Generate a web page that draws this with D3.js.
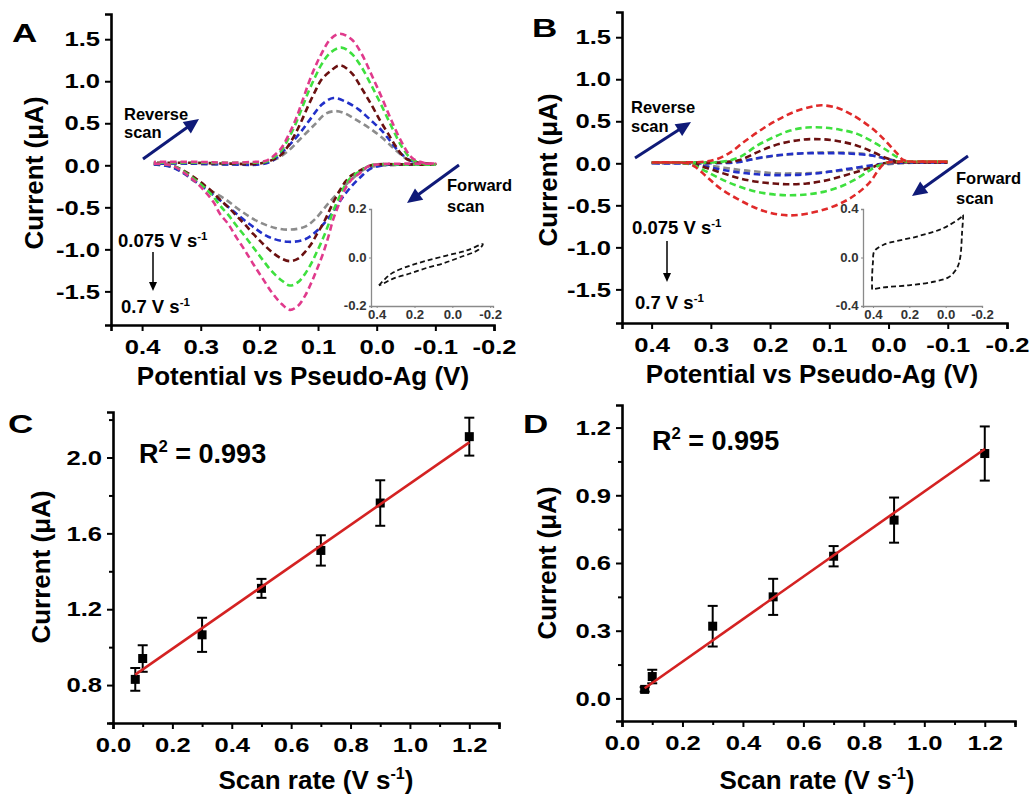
<!DOCTYPE html>
<html><head><meta charset="utf-8">
<script src="https://cdn.jsdelivr.net/npm/d3@7"></script>
<style>
body{margin:0;background:#fff;}
svg text{font-family:"Liberation Sans",Arial,Helvetica,sans-serif;font-weight:bold;}
</style></head><body>
<script>
// ---------------- DATA ----------------
// Panel A: CV curves (potential V, current uA); fwd = cathodic sweep (0.38 -> -0.1), rev = anodic sweep (-0.1 -> 0.38)
const ratesLabelTop = "0.075 V s";
const ratesLabelBottom = "0.7 V s";
const cvTicksX = [0.4, 0.3, 0.2, 0.1, 0.0, -0.1, -0.2];
const cvTicksY = [-1.5, -1.0, -0.5, 0.0, 0.5, 1.0, 1.5];

const aGrayFwd = [[0.38,0.01],[0.35,-0.02],[0.33,-0.09],[0.315,-0.17],[0.287,-0.285],[0.259,-0.40],[0.23,-0.55],[0.202,-0.67],[0.173,-0.745],[0.148,-0.765],[0.122,-0.73],[0.105,-0.64],[0.082,-0.45],[0.06,-0.285],[0.043,-0.17],[0.026,-0.07],[0.01,-0.02],[-0.02,0.0],[-0.06,0.01],[-0.1,0.01]];
const aGrayRev = [[-0.1,0.01],[-0.075,0.02],[-0.06,0.04],[-0.048,0.09],[-0.031,0.19],[-0.009,0.33],[0.014,0.45],[0.037,0.55],[0.055,0.62],[0.07,0.645],[0.088,0.61],[0.105,0.49],[0.128,0.33],[0.151,0.17],[0.17,0.08],[0.19,0.03],[0.22,0.01],[0.27,0.01],[0.32,0.02],[0.38,0.02]];
const aBlueFwd = [[0.38,0.01],[0.35,-0.02],[0.33,-0.09],[0.298,-0.25],[0.27,-0.40],[0.242,-0.56],[0.213,-0.72],[0.185,-0.85],[0.151,-0.91],[0.122,-0.88],[0.099,-0.76],[0.077,-0.58],[0.06,-0.40],[0.043,-0.25],[0.026,-0.13],[0.01,-0.04],[-0.01,0.0],[-0.05,0.01],[-0.1,0.01]];
const aBlueRev = [[-0.1,0.01],[-0.075,0.02],[-0.054,0.07],[-0.037,0.17],[-0.023,0.29],[-0.009,0.41],[0.009,0.53],[0.031,0.665],[0.054,0.76],[0.074,0.80],[0.094,0.72],[0.111,0.57],[0.128,0.41],[0.145,0.27],[0.162,0.15],[0.179,0.05],[0.20,0.01],[0.25,0.01],[0.32,0.02],[0.38,0.02]];
const aMaroonFwd = [[0.38,0.02],[0.35,0.0],[0.33,-0.06],[0.31,-0.15],[0.293,-0.24],[0.278,-0.33],[0.267,-0.41],[0.253,-0.50],[0.239,-0.60],[0.224,-0.71],[0.21,-0.82],[0.196,-0.92],[0.179,-1.03],[0.162,-1.11],[0.148,-1.14],[0.134,-1.11],[0.122,-1.03],[0.111,-0.93],[0.102,-0.82],[0.091,-0.69],[0.082,-0.56],[0.074,-0.44],[0.063,-0.30],[0.054,-0.20],[0.043,-0.12],[0.028,-0.06],[0.014,-0.01],[0.0,0.01],[-0.05,0.01],[-0.1,0.01]];
const aMaroonRev = [[-0.1,0.02],[-0.065,0.04],[-0.048,0.09],[-0.034,0.21],[-0.02,0.37],[-0.006,0.53],[0.009,0.72],[0.026,0.92],[0.043,1.10],[0.063,1.19],[0.079,1.12],[0.094,1.02],[0.105,0.88],[0.116,0.72],[0.128,0.53],[0.139,0.37],[0.151,0.23],[0.162,0.13],[0.176,0.07],[0.20,0.02],[0.25,0.02],[0.32,0.03],[0.38,0.03]];
const aGreenFwd = [[0.38,0.02],[0.35,0.0],[0.33,-0.07],[0.31,-0.17],[0.293,-0.27],[0.278,-0.38],[0.267,-0.48],[0.253,-0.59],[0.239,-0.72],[0.224,-0.85],[0.21,-0.98],[0.196,-1.11],[0.179,-1.26],[0.162,-1.37],[0.148,-1.43],[0.134,-1.39],[0.122,-1.29],[0.111,-1.16],[0.102,-1.03],[0.091,-0.86],[0.082,-0.70],[0.074,-0.54],[0.063,-0.37],[0.054,-0.24],[0.043,-0.14],[0.028,-0.07],[0.014,-0.01],[0.0,0.01],[-0.05,0.01],[-0.1,0.01]];
const aGreenRev = [[-0.1,0.02],[-0.08,0.02],[-0.06,0.07],[-0.043,0.22],[-0.026,0.45],[-0.009,0.70],[0.009,0.95],[0.026,1.17],[0.043,1.33],[0.06,1.40],[0.079,1.34],[0.094,1.20],[0.105,1.05],[0.116,0.88],[0.128,0.67],[0.139,0.48],[0.151,0.31],[0.162,0.18],[0.176,0.09],[0.19,0.04],[0.22,0.03],[0.30,0.03],[0.38,0.03]];
const aPinkFwd = [[0.38,0.02],[0.35,0.0],[0.33,-0.08],[0.31,-0.19],[0.293,-0.31],[0.278,-0.44],[0.267,-0.58],[0.253,-0.70],[0.239,-0.86],[0.224,-1.02],[0.21,-1.18],[0.196,-1.33],[0.179,-1.51],[0.162,-1.65],[0.148,-1.72],[0.134,-1.67],[0.122,-1.55],[0.111,-1.39],[0.102,-1.24],[0.091,-1.04],[0.082,-0.84],[0.074,-0.64],[0.063,-0.44],[0.054,-0.285],[0.043,-0.17],[0.028,-0.09],[0.014,-0.01],[0.0,0.01],[-0.05,0.02],[-0.1,0.02]];
const aPinkRev = [[-0.1,0.03],[-0.08,0.03],[-0.06,0.09],[-0.043,0.27],[-0.026,0.52],[-0.009,0.80],[0.009,1.08],[0.026,1.33],[0.043,1.50],[0.063,1.565],[0.079,1.50],[0.094,1.33],[0.105,1.17],[0.116,0.98],[0.128,0.74],[0.139,0.53],[0.151,0.35],[0.162,0.21],[0.176,0.11],[0.19,0.05],[0.21,0.04],[0.25,0.03],[0.30,0.04],[0.38,0.04]];

// Panel B: CV curves
const bGrayFwd = [[0.40,0.0],[0.34,0.0],[0.30,-0.03],[0.25,-0.08],[0.22,-0.10],[0.19,-0.12],[0.16,-0.12],[0.13,-0.115],[0.10,-0.10],[0.07,-0.08],[0.04,-0.05],[0.02,-0.03],[0.0,-0.01],[-0.02,0.0],[-0.06,0.01],[-0.1,0.01]];
const bGrayRev = [[-0.1,0.01],[-0.05,0.01],[-0.02,0.02],[0.0,0.05],[0.02,0.08],[0.04,0.11],[0.07,0.125],[0.10,0.13],[0.13,0.125],[0.16,0.11],[0.19,0.09],[0.22,0.06],[0.25,0.03],[0.30,0.01],[0.40,0.0]];
const bBlueFwd = [[0.40,0.0],[0.34,0.0],[0.307,-0.04],[0.279,-0.08],[0.251,-0.11],[0.222,-0.13],[0.194,-0.14],[0.166,-0.14],[0.138,-0.13],[0.11,-0.11],[0.082,-0.08],[0.053,-0.05],[0.025,-0.02],[0.0,0.0],[-0.05,0.01],[-0.1,0.01]];
const bBlueRev = [[-0.1,0.01],[-0.05,0.01],[-0.014,0.02],[0.003,0.05],[0.025,0.09],[0.053,0.11],[0.082,0.12],[0.11,0.12],[0.138,0.12],[0.166,0.11],[0.194,0.09],[0.222,0.06],[0.251,0.016],[0.30,0.0],[0.40,0.0]];
const bMaroonFwd = [[0.40,0.01],[0.34,0.0],[0.31,-0.05],[0.279,-0.12],[0.251,-0.18],[0.222,-0.22],[0.194,-0.24],[0.166,-0.25],[0.138,-0.24],[0.11,-0.21],[0.082,-0.16],[0.053,-0.10],[0.025,-0.04],[0.008,0.0],[-0.05,0.01],[-0.1,0.01]];
const bMaroonRev = [[-0.1,0.01],[-0.05,0.01],[-0.014,0.02],[0.003,0.06],[0.025,0.13],[0.053,0.21],[0.082,0.26],[0.11,0.285],[0.138,0.285],[0.166,0.26],[0.194,0.21],[0.222,0.13],[0.251,0.04],[0.28,0.01],[0.34,0.01],[0.40,0.01]];
const bGreenFwd = [[0.40,0.01],[0.36,0.01],[0.33,-0.02],[0.307,-0.10],[0.279,-0.20],[0.251,-0.28],[0.222,-0.34],[0.194,-0.37],[0.166,-0.38],[0.138,-0.37],[0.11,-0.34],[0.082,-0.28],[0.053,-0.18],[0.031,-0.08],[0.014,-0.02],[0.0,0.01],[-0.05,0.02],[-0.1,0.02]];
const bGreenRev = [[-0.1,0.02],[-0.05,0.02],[-0.03,0.02],[-0.014,0.075],[0.003,0.155],[0.025,0.25],[0.053,0.35],[0.082,0.40],[0.11,0.425],[0.138,0.425],[0.166,0.39],[0.194,0.31],[0.222,0.21],[0.251,0.075],[0.28,0.02],[0.33,0.01],[0.40,0.01]];
const bRedFwd = [[0.40,0.01],[0.36,0.01],[0.34,0.0],[0.327,-0.04],[0.307,-0.16],[0.284,-0.30],[0.256,-0.42],[0.228,-0.52],[0.20,-0.59],[0.166,-0.62],[0.138,-0.60],[0.104,-0.54],[0.076,-0.46],[0.053,-0.36],[0.031,-0.22],[0.017,-0.08],[0.006,0.0],[-0.02,0.02],[-0.06,0.02],[-0.1,0.02]];
const bRedRev = [[-0.1,0.02],[-0.06,0.02],[-0.04,0.02],[-0.025,0.04],[-0.014,0.12],[0.003,0.25],[0.02,0.37],[0.042,0.49],[0.065,0.59],[0.087,0.66],[0.113,0.69],[0.132,0.67],[0.16,0.61],[0.189,0.51],[0.217,0.39],[0.245,0.25],[0.267,0.13],[0.29,0.05],[0.31,0.02],[0.35,0.01],[0.40,0.01]];

// Insets (background CVs)
const insetATicksX = [0.4, 0.2, 0.0, -0.2];
const insetATicksY = [-0.2, 0.0, 0.2];
const insetALoop = [[0.388,-0.115],[0.358,-0.090],[0.313,-0.062],[0.225,-0.034],[0.136,-0.013],[0.030,0.008],[-0.076,0.029],[-0.161,0.055],[-0.138,0.032],[-0.041,0.001],[0.048,-0.024],[0.136,-0.043],[0.225,-0.066],[0.313,-0.087],[0.367,-0.108],[0.388,-0.115]];
const insetBTicksX = [0.4, 0.2, 0.0, -0.2];
const insetBTicksY = [-0.4, 0.0, 0.4];
const insetBLoop = [[0.405,-0.263],[0.405,-0.158],[0.40,-0.034],[0.393,0.05],[0.342,0.105],[0.158,0.173],[0.011,0.243],[-0.09,0.339],[-0.095,0.353],[-0.09,0.2],[-0.08,0.0],[-0.062,-0.088],[-0.016,-0.163],[0.066,-0.2],[0.195,-0.228],[0.342,-0.247],[0.405,-0.263]];

// Panels C & D
const scanRates = [0.075, 0.1, 0.3, 0.5, 0.7, 0.9, 1.2];
const currentC = [0.83, 0.94, 1.065, 1.31, 1.51, 1.76, 2.11];
const errorC = [0.06, 0.07, 0.09, 0.05, 0.08, 0.12, 0.10];
const fitC = [[0.075, 0.855], [1.2, 2.08]];
const currentD = [0.04, 0.097, 0.32, 0.45, 0.63, 0.79, 1.085];
const errorD = [0.01, 0.03, 0.09, 0.08, 0.045, 0.10, 0.12];
const fitD = [[0.075, 0.045], [1.2, 1.105]];
const rateTicks = [0.0, 0.2, 0.4, 0.6, 0.8, 1.0, 1.2];
const rateMinor = [0.1, 0.3, 0.5, 0.7, 0.9, 1.1, 1.3];
const cTicksY = [0.8, 1.2, 1.6, 2.0];
const cMinorY = [0.6, 1.0, 1.4, 1.8, 2.2];
const dTicksY = [0.0, 0.3, 0.6, 0.9, 1.2];
const dMinorY = [0.15, 0.45, 0.75, 1.05];

// ---------------- DRAWING ----------------
const FONT = '"Liberation Sans", Arial, Helvetica, sans-serif';
const NAVY = "#0f1a78";
const svg = d3.select("body").append("svg").attr("width", 1033).attr("height", 796)
  .style("background", "#fff");

const fmt1 = d => (Math.abs(d) < 1e-9 ? 0 : d).toFixed(1);
const TSX = 1.22; // horizontal stretch of tick labels

function styleAxis(g, fs, sx, domW, tickW, color) {
  color = color || "#000";
  g.attr("font-size", fs).attr("font-family", FONT).attr("font-weight", "bold");
  g.select(".domain").attr("stroke", color).attr("stroke-width", domW);
  g.selectAll(".tick line").attr("stroke", color).attr("stroke-width", tickW);
  g.selectAll(".tick text").attr("fill", "#000").attr("font-weight", "bold");
  if (sx) g.selectAll(".tick text").attr("transform", `scale(${sx},1)`);
}
function minorAxis(axis, tr, len) {
  const g = svg.append("g").attr("transform", tr).call(axis.tickSize(len).tickFormat(""));
  g.select(".domain").remove();
  g.selectAll(".tick line").attr("stroke", "#000").attr("stroke-width", 2);
}
function supText(x, y, main, sup, fs, anchor, rot) {
  const t = svg.append("text").attr("font-size", fs).attr("fill", "#000")
    .attr("text-anchor", anchor || "start");
  if (rot) t.attr("transform", `translate(${x},${y}) rotate(${rot})`);
  else t.attr("x", x).attr("y", y);
  t.append("tspan").text(main);
  t.append("tspan").attr("font-size", fs * 0.62).attr("dy", -fs * 0.4).text(sup);
  return t;
}
function plainText(x, y, s, fs, anchor, rot) {
  const t = svg.append("text").attr("font-size", fs).attr("fill", "#000")
    .attr("text-anchor", anchor || "start").text(s);
  if (rot) t.attr("transform", `translate(${x},${y}) rotate(${rot})`);
  else t.attr("x", x).attr("y", y);
  return t;
}
function panelLetter(x, y, s) {
  svg.append("text").attr("transform", `translate(${x},${y}) scale(1.4,1)`)
    .attr("font-size", 25).attr("fill", "#000").text(s);
}
function bigArrow(x1, y1, x2, y2, color, w, hl, hw) {
  const dx = x2 - x1, dy = y2 - y1, L = Math.hypot(dx, dy);
  const ux = dx / L, uy = dy / L, px = -uy, py = ux;
  const bx = x2 - ux * hl, by = y2 - uy * hl;
  svg.append("line").attr("x1", x1).attr("y1", y1).attr("x2", bx + ux * 2).attr("y2", by + uy * 2)
    .attr("stroke", color).attr("stroke-width", w);
  svg.append("path").attr("d", `M${x2},${y2}L${bx + px * hw},${by + py * hw}L${bx - px * hw},${by - py * hw}Z`)
    .attr("fill", color);
}

function cvPanel(cfg) {
  const x = d3.scaleLinear().domain(cfg.xDom).range(cfg.xRange);
  const y = d3.scaleLinear().domain([-1.9, 1.8]).range(cfg.yRange);
  const line = d3.line().x(d => x(d[0])).y(d => y(d[1])).curve(d3.curveCatmullRom.alpha(0.5));
  cfg.curves.forEach(c => {
    svg.append("path").attr("d", line(c.fwd.concat(c.rev.slice(1))))
      .attr("fill", "none").attr("stroke", c.color).attr("stroke-width", 2.6)
      .attr("stroke-dasharray", "6.5,3.8").attr("stroke-linecap", "butt");
  });
  const gx = svg.append("g").attr("transform", `translate(0,${cfg.yRange[0]})`)
    .call(d3.axisBottom(x).tickValues(cvTicksX).tickFormat(fmt1).tickSizeOuter(0).tickSize(6).tickPadding(8));
  styleAxis(gx, 21, TSX, 2.6, 2);
  const gy = svg.append("g").attr("transform", `translate(${cfg.xRange[0]},0)`)
    .call(d3.axisLeft(y).tickValues(cvTicksY).tickFormat(fmt1).tickSizeOuter(0).tickSize(6).tickPadding(3));
  styleAxis(gy, 21, TSX, 2.6, 2);

  // inset
  const ins = cfg.inset;
  const ix = d3.scaleLinear().domain(ins.xDom).range(ins.xRange);
  const iy = d3.scaleLinear().domain(ins.yDom).range(ins.yRange);
  const il = d3.line().x(d => ix(d[0])).y(d => iy(d[1])).curve(d3.curveCatmullRom.alpha(0.5));
  svg.append("path").attr("d", il(ins.loop)).attr("fill", "none").attr("stroke", "#111")
    .attr("stroke-width", 1.8).attr("stroke-dasharray", "5,3");
  const igx = svg.append("g").attr("transform", `translate(0,${ins.yRange[0]})`)
    .call(d3.axisBottom(ix).tickValues(ins.ticksX).tickFormat(fmt1).tickSizeOuter(0).tickSize(2).tickPadding(2));
  styleAxis(igx, 12, 1.1, 1.3, 1, "#8a8a8a");
  const igy = svg.append("g").attr("transform", `translate(${ins.xRange[0]},0)`)
    .call(d3.axisLeft(iy).tickValues(ins.ticksY).tickFormat(fmt1).tickSizeOuter(0).tickSize(2).tickPadding(2));
  styleAxis(igy, 12, 1.1, 1.3, 1, "#8a8a8a");
  igx.selectAll(".tick text").attr("fill", "#333");
  igy.selectAll(".tick text").attr("fill", "#333");
}

// Panel A
cvPanel({
  xDom: [0.453, -0.2], xRange: [111, 494], yRange: [325, 14],
  curves: [
    {color: "#8c8c8c", fwd: aGrayFwd, rev: aGrayRev},
    {color: "#2230c8", fwd: aBlueFwd, rev: aBlueRev},
    {color: "#6a1010", fwd: aMaroonFwd, rev: aMaroonRev},
    {color: "#3ee03e", fwd: aGreenFwd, rev: aGreenRev},
    {color: "#e03a8c", fwd: aPinkFwd, rev: aPinkRev}
  ],
  inset: {xDom: [0.43, -0.215], xRange: [371, 493], yDom: [-0.2, 0.2], yRange: [306, 209],
          ticksX: insetATicksX, ticksY: insetATicksY, loop: insetALoop}
});
// Panel B
cvPanel({
  xDom: [0.45, -0.2], xRange: [622, 1007], yRange: [323, 12],
  curves: [
    {color: "#8c8c8c", fwd: bGrayFwd, rev: bGrayRev},
    {color: "#2230c8", fwd: bBlueFwd, rev: bBlueRev},
    {color: "#6a1010", fwd: bMaroonFwd, rev: bMaroonRev},
    {color: "#3ee03e", fwd: bGreenFwd, rev: bGreenRev},
    {color: "#e02a2a", fwd: bRedFwd, rev: bRedRev}
  ],
  inset: {xDom: [0.455, -0.2], xRange: [863, 982], yDom: [-0.4, 0.4], yRange: [306, 209],
          ticksX: insetBTicksX, ticksY: insetBTicksY, loop: insetBLoop}
});

// Annotations A
plainText(124, 120, "Reverse", 16.5);
plainText(124, 138, "scan", 16.5);
plainText(447, 191, "Forward", 16.5);
plainText(447, 212, "scan", 16.5);
bigArrow(143, 159, 199, 119, NAVY, 3, 15, 7);
bigArrow(459, 165, 407, 203, NAVY, 3, 15, 7);
supText(118, 247, ratesLabelTop, "-1", 18.5);
supText(121, 313, ratesLabelBottom, "-1", 18.5);
bigArrow(153, 252, 153, 291, "#000", 1.5, 9, 4);
// Annotations B
plainText(631, 113, "Reverse", 16.5);
plainText(631, 132, "scan", 16.5);
plainText(956, 184, "Forward", 16.5);
plainText(956, 204, "scan", 16.5);
bigArrow(635, 158, 691, 122, NAVY, 3, 15, 7);
bigArrow(968, 156, 912, 196, NAVY, 3, 15, 7);
supText(632, 234, ratesLabelTop, "-1", 18.5);
supText(635, 309, ratesLabelBottom, "-1", 18.5);
bigArrow(667, 241, 667, 282, "#000", 1.5, 9, 4);

// Axis titles A/B
plainText(303, 385, "Potential vs Pseudo-Ag (V)", 26, "middle");
plainText(812, 383, "Potential vs Pseudo-Ag (V)", 26, "middle");
plainText(43, 173, "Current (\u03bcA)", 26, "middle", -90);
plainText(557, 170, "Current (\u03bcA)", 26, "middle", -90);
panelLetter(12, 42, "A");
panelLetter(532, 37, "B");

// Scatter panels
function ratePanel(cfg) {
  const x = d3.scaleLinear().domain([0, 1.3]).range(cfg.xRange);
  const y = d3.scaleLinear().domain(cfg.yDom).range(cfg.yRange);
  const gx = svg.append("g").attr("transform", `translate(0,${cfg.yRange[0]})`)
    .call(d3.axisBottom(x).tickValues(rateTicks).tickFormat(fmt1).tickSizeOuter(0).tickSize(6).tickPadding(8));
  styleAxis(gx, 21, TSX, 2.6, 2);
  minorAxis(d3.axisBottom(x).tickValues(rateMinor), `translate(0,${cfg.yRange[0]})`, 4);
  const gy = svg.append("g").attr("transform", `translate(${cfg.xRange[0]},0)`)
    .call(d3.axisLeft(y).tickValues(cfg.ticksY).tickFormat(fmt1).tickSizeOuter(0).tickSize(6).tickPadding(3));
  styleAxis(gy, 21, TSX, 2.6, 2);
  minorAxis(d3.axisLeft(y).tickValues(cfg.minorY), `translate(${cfg.xRange[0]},0)`, 4);

  const pts = scanRates.map((r, i) => ({r, v: cfg.vals[i], e: cfg.errs[i]}));
  const g = svg.append("g");
  pts.forEach(p => {
    const cx = x(p.r), y1 = y(p.v + p.e), y2 = y(p.v - p.e);
    g.append("line").attr("x1", cx).attr("x2", cx).attr("y1", y1).attr("y2", y2).attr("stroke", "#000").attr("stroke-width", 2);
    [y1, y2].forEach(yy => g.append("line").attr("x1", cx - 5).attr("x2", cx + 5).attr("y1", yy).attr("y2", yy)
      .attr("stroke", "#000").attr("stroke-width", 2));
    g.append("rect").attr("x", cx - 4.5).attr("y", y(p.v) - 4.5).attr("width", 9).attr("height", 9).attr("fill", "#000");
  });
  svg.append("path").attr("d", d3.line().x(d => x(d[0])).y(d => y(d[1]))(cfg.fit))
    .attr("stroke", "#d42222").attr("stroke-width", 2.6).attr("fill", "none");
}
ratePanel({xRange: [113, 499], yDom: [0.6, 2.24], yRange: [723, 412], ticksY: cTicksY, minorY: cMinorY,
  vals: currentC, errs: errorC, fit: fitC});
ratePanel({xRange: [622, 1015], yDom: [-0.1, 1.3], yRange: [721, 405], ticksY: dTicksY, minorY: dMinorY,
  vals: currentD, errs: errorD, fit: fitD});

supText(139, 463, "R", "2", 27).append("tspan").attr("dy", 27 * 0.4).text(" = 0.993");
supText(652, 450, "R", "2", 27).append("tspan").attr("dy", 27 * 0.4).text(" = 0.995");
supText(316, 789, "Scan rate (V s", "-1", 26, "middle").append("tspan").attr("dy", 26 * 0.4).text(")");
supText(817, 789, "Scan rate (V s", "-1", 26, "middle").append("tspan").attr("dy", 26 * 0.4).text(")");
plainText(50, 567, "Current (\u03bcA)", 26, "middle", -90);
plainText(556, 563, "Current (\u03bcA)", 26, "middle", -90);
panelLetter(8, 433, "C");
panelLetter(523, 433, "D");
</script></body></html>
